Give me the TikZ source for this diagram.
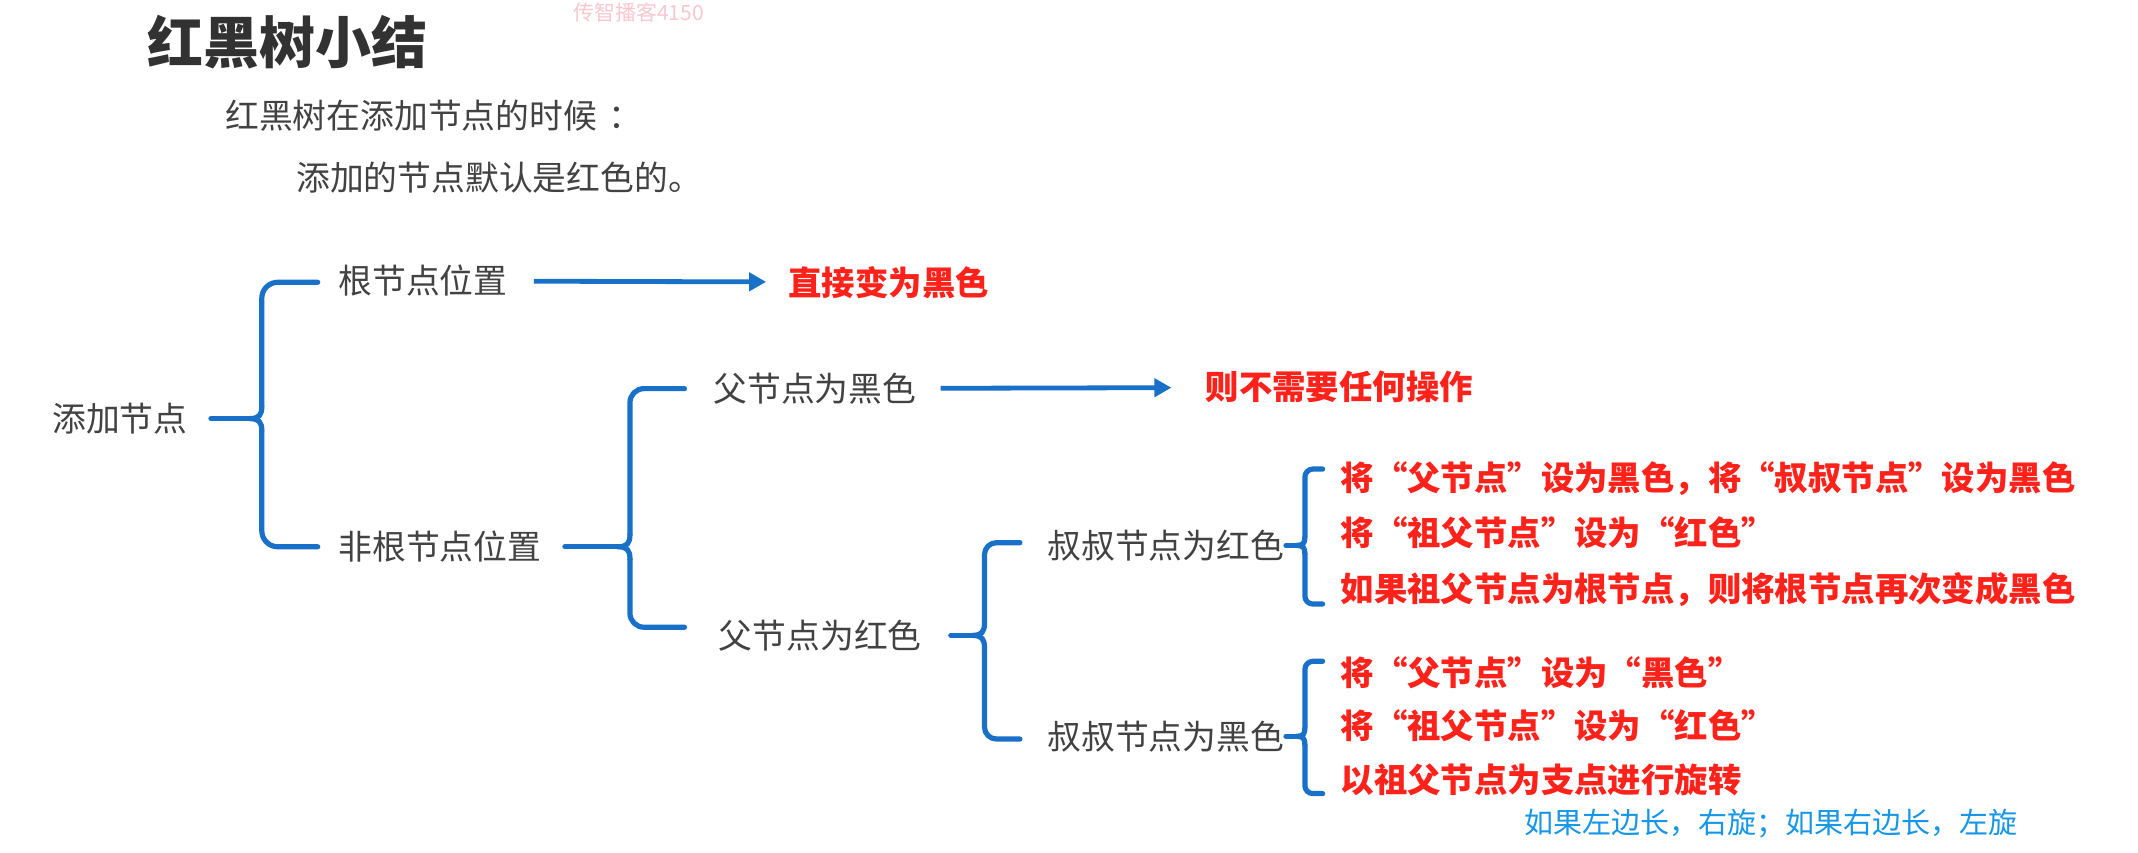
\documentclass[tikz,border=0pt]{standalone}
\usepackage{fontspec}
\newfontfamily\cjk{Noto Sans CJK SC}
\usetikzlibrary{arrows.meta,calc}
\definecolor{brblue}{RGB}{24,112,200}
\definecolor{txtred}{RGB}{255,34,26}
\definecolor{txtgray}{RGB}{66,66,66}
\definecolor{ttlgray}{RGB}{50,50,50}
\definecolor{noteblue}{RGB}{22,150,230}
\definecolor{wmpink}{RGB}{248,200,208}
\tikzset{
  lbl/.style={font=\cjk\fontsize{16.9}{20}\selectfont, text=txtgray, inner sep=0pt, anchor=west},
  redtxt/.style={font=\cjk\bfseries\fontsize{16.7}{20}\selectfont, text=txtred, inner sep=0pt, anchor=west},
  brace/.style={draw=brblue, line width=2.6pt, line cap=round, line join=round},
  arr/.style={draw=brblue, line width=2.4pt, -{Triangle[length=8.5pt,width=9pt]}},
}
\newcommand{\cusp}{9}
% #1 parent, #2 top child, #3 bottom child, #4 vertical x, #5 tick gap, #6 arm gap, #7 corner, #8 top dy, #9 bottom dy
\newcommand{\mybracket}[9]{%
  \coordinate (bV) at (#4,0);
  \coordinate (bT) at ($(#2.west)+(-#6,#8)$);
  \coordinate (bB) at ($(#3.west -| bT)+(0,#9)$);
  \coordinate (bM) at ($(#1.east)+(#5,0)$);
  \coordinate (bC) at (bM -| bV);
  \draw[brace, rounded corners=#7] (bT) -- (bT -| bV) -- ($(bC)+(0,-\cusp)$);
  \draw[brace, rounded corners=#7] (bB) -- (bB -| bV) -- ($(bC)+(0,\cusp)$);
  \draw[brace] ($(bC)+(0,-\cusp)$) .. controls ($(bC)+(0,-0.3*\cusp)$) and ($(bC)+(-0.2*\cusp,0)$) .. ($(bC)+(-\cusp,0)$)
     .. controls ($(bC)+(-0.2*\cusp,0)$) and ($(bC)+(0,0.3*\cusp)$) .. ($(bC)+(0,\cusp)$);
  \draw[brace] (bM) -- ($(bC)+(-\cusp,0)$);
}
\begin{document}
\begin{tikzpicture}[x=0.6818pt,y=-0.6818pt]
\useasboundingbox[fill=white] (0,0) rectangle (1568,625);
% header
\node[anchor=west, inner sep=0pt, font=\cjk\bfseries\fontsize{28}{32}\selectfont, text=ttlgray] (title) at (108,31) {红黑树小结};
\node[anchor=west, inner sep=0pt, font=\cjk\fontsize{10.5}{12}\selectfont, text=wmpink] (wm) at (420,9) {传智播客4150};
\node[lbl] (intro1) at (165,85) {红黑树在添加节点的时候\hspace{0.35em}：};
\node[lbl] (intro2) at (217,130) {添加的节点默认是红色的。};
% tree
\node[lbl] (add) at (38,307) {添加节点};
\node[lbl] (root) at (248,206) {根节点位置};
\node[lbl] (nonroot) at (248,401) {非根节点位置};
\node[redtxt] (direct) at (578,207) {直接变为黑色};
\node[lbl] (pblack) at (523,285) {父节点为黑色};
\node[redtxt] (noop) at (884,284) {则不需要任何操作};
\node[lbl] (pred) at (527,466) {父节点为红色};
\node[lbl] (ured) at (768,400) {叔叔节点为红色};
\node[lbl] (ublack) at (768,540) {叔叔节点为黑色};
\node[redtxt] (r1) at (983,351) {将“父节点”设为黑色，将“叔叔节点”设为黑色};
\node[redtxt] (r2) at (983,391) {将“祖父节点”设为“红色”};
\node[redtxt] (r3) at (983,432) {如果祖父节点为根节点，则将根节点再次变成黑色};
\node[redtxt] (b1) at (983,493) {将“父节点”设为“黑色”};
\node[redtxt] (b2) at (983,532) {将“祖父节点”设为“红色”};
\node[redtxt] (b3) at (983,572) {以祖父节点为支点进行旋转};
\node[anchor=west, inner sep=0pt, font=\cjk\fontsize{14.5}{17}\selectfont, text=noteblue] (note) at (1118,604) {如果左边长，右旋；如果右边长，左旋};
% arrows
\draw[arr, shorten <=13pt, shorten >=11pt] (root) -- (direct);
\draw[arr, shorten <=12pt, shorten >=17pt] (pblack) -- (noop);
% brackets
\mybracket{add}{root}{nonroot}{192}{17}{15}{8pt}{1}{0}
\mybracket{nonroot}{pblack}{pred}{462}{17}{21}{7pt}{0}{-6}
\mybracket{pred}{ured}{ublack}{722}{21}{20}{6pt}{-2}{2}
\renewcommand{\cusp}{6}
\mybracket{ured}{r1}{r3}{957}{1}{13}{4pt}{-7}{11}
\mybracket{ublack}{b1}{b3}{957}{1}{13}{4pt}{-8}{10}
\end{tikzpicture}
\end{document}
